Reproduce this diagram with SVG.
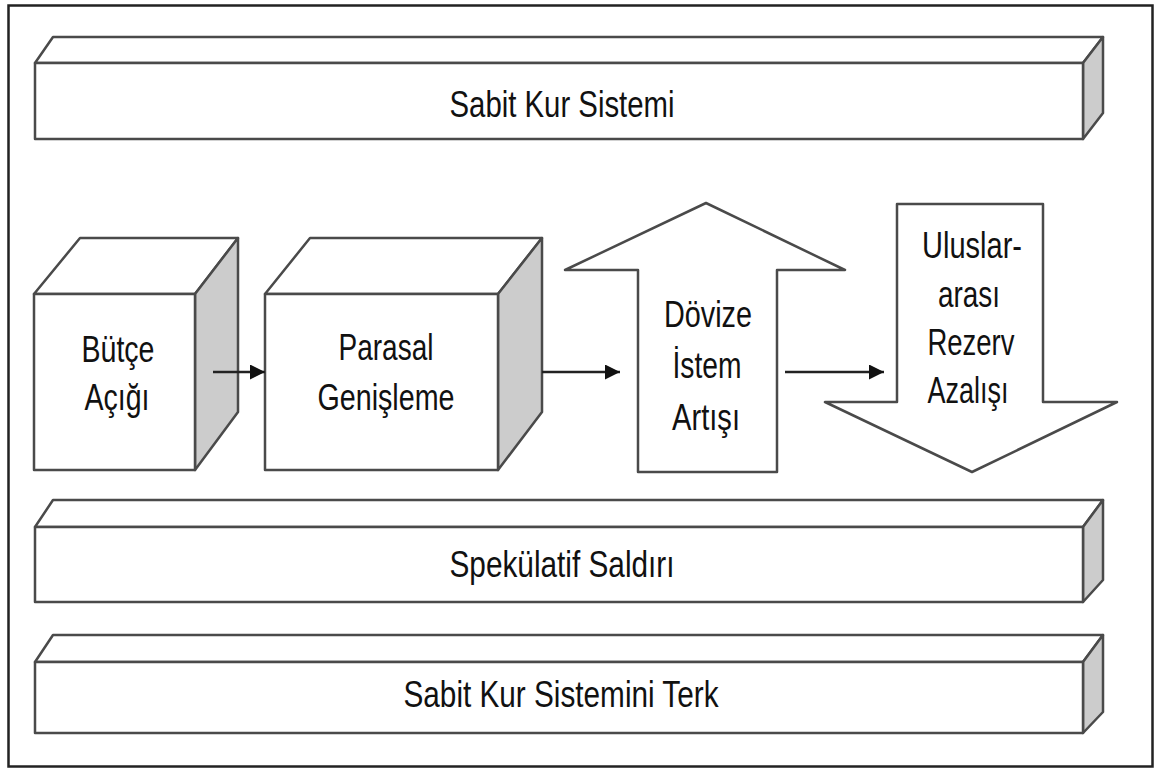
<svg xmlns="http://www.w3.org/2000/svg" width="1156" height="769" viewBox="0 0 1156 769">
  <style>
    .face { fill: #ffffff; stroke: #4a4a4a; stroke-width: 2.5; stroke-linejoin: round; }
    .side { fill: #cccccc; stroke: #4a4a4a; stroke-width: 2.5; stroke-linejoin: round; }
    .lbl { font-family: "Liberation Sans", Arial, sans-serif; font-size: 37px; fill: #111111; text-anchor: middle; }
    .conn { stroke: #222222; stroke-width: 2.5; fill: none; }
  </style>
  <defs>
    <marker id="tip" viewBox="0 0 10 10" refX="10" refY="5" markerWidth="6.5" markerHeight="6" markerUnits="strokeWidth" orient="auto">
      <path d="M0,0 L10,5 L0,10 Z" fill="#111111"/>
    </marker>
  </defs>

  <rect width="1156" height="769" fill="#ffffff"/>
  <!-- frame -->
  <rect x="8.5" y="5.5" width="1144" height="761" fill="none" stroke="#222222" stroke-width="2.5"/>

  <!-- top bar -->
  <g id="sabit-kur-sistemi">
    <polygon class="face" points="35,63 53,37 1103,37 1083,63"/>
    <polygon class="side" points="1083,63 1103,37 1103,113 1083,139"/>
    <rect class="face" x="35" y="63" width="1048" height="76"/>
    <text class="lbl" x="562" y="117" textLength="225" lengthAdjust="spacingAndGlyphs">Sabit Kur Sistemi</text>
  </g>

  <!-- cube: budget deficit -->
  <g id="butce-acigi">
    <polygon class="face" points="34,294 80,238 238,238 195,294"/>
    <polygon class="side" points="195,294 238,238 238,412 195,470"/>
    <rect class="face" x="34" y="294" width="161" height="176"/>
    <text class="lbl" x="118" y="362" textLength="73" lengthAdjust="spacingAndGlyphs">Bütçe</text>
    <text class="lbl" x="117" y="410" textLength="65" lengthAdjust="spacingAndGlyphs">Açığı</text>
  </g>

  <!-- cube: monetary expansion -->
  <g id="parasal-genisleme">
    <polygon class="face" points="265,294 310,238 542,238 498,294"/>
    <polygon class="side" points="498,294 542,238 542,412 498,470"/>
    <rect class="face" x="265" y="294" width="233" height="176"/>
    <text class="lbl" x="386" y="360" textLength="95" lengthAdjust="spacingAndGlyphs">Parasal</text>
    <text class="lbl" x="386" y="410" textLength="137" lengthAdjust="spacingAndGlyphs">Genişleme</text>
  </g>

  <!-- up arrow: demand for foreign currency -->
  <g id="dovize-istem-artisi">
    <polygon class="face" points="638,472 638,270 565,270 706,203 845,270 777,270 777,472"/>
    <text class="lbl" x="708" y="327" textLength="88" lengthAdjust="spacingAndGlyphs">Dövize</text>
    <text class="lbl" x="707" y="378" textLength="69" lengthAdjust="spacingAndGlyphs">İstem</text>
    <text class="lbl" x="706" y="430" textLength="68" lengthAdjust="spacingAndGlyphs">Artışı</text>
  </g>

  <!-- down arrow: reserve loss -->
  <g id="uluslararasi-rezerv-azalisi">
    <polygon class="face" points="897,204 1043,204 1043,402 1117,402 972,472 825,402 897,402"/>
    <text class="lbl" x="972" y="258" textLength="100" lengthAdjust="spacingAndGlyphs">Uluslar-</text>
    <text class="lbl" x="969" y="307" textLength="62" lengthAdjust="spacingAndGlyphs">arası</text>
    <text class="lbl" x="971" y="355" textLength="87" lengthAdjust="spacingAndGlyphs">Rezerv</text>
    <text class="lbl" x="968" y="403" textLength="81" lengthAdjust="spacingAndGlyphs">Azalışı</text>
  </g>

  <!-- speculative attack bar -->
  <g id="spekulatif-saldiri">
    <polygon class="face" points="35,527 53,500 1103,500 1083,527"/>
    <polygon class="side" points="1083,527 1103,500 1103,580 1083,602"/>
    <rect class="face" x="35" y="527" width="1048" height="75"/>
    <text class="lbl" x="562" y="577" textLength="225" lengthAdjust="spacingAndGlyphs">Spekülatif Saldırı</text>
  </g>

  <!-- abandonment bar -->
  <g id="sabit-kur-sistemini-terk">
    <polygon class="face" points="35,662 53,635 1103,635 1083,662"/>
    <polygon class="side" points="1083,662 1103,635 1103,712 1083,733"/>
    <rect class="face" x="35" y="662" width="1048" height="71"/>
    <text class="lbl" x="561" y="707" textLength="315" lengthAdjust="spacingAndGlyphs">Sabit Kur Sistemini Terk</text>
  </g>

  <!-- connectors -->
  <g id="connectors">
    <line class="conn" x1="213" y1="372" x2="265" y2="372" marker-end="url(#tip)"/>
    <line class="conn" x1="542" y1="372" x2="620" y2="372" marker-end="url(#tip)"/>
    <line class="conn" x1="785" y1="372" x2="884" y2="372" marker-end="url(#tip)"/>
  </g>
</svg>
